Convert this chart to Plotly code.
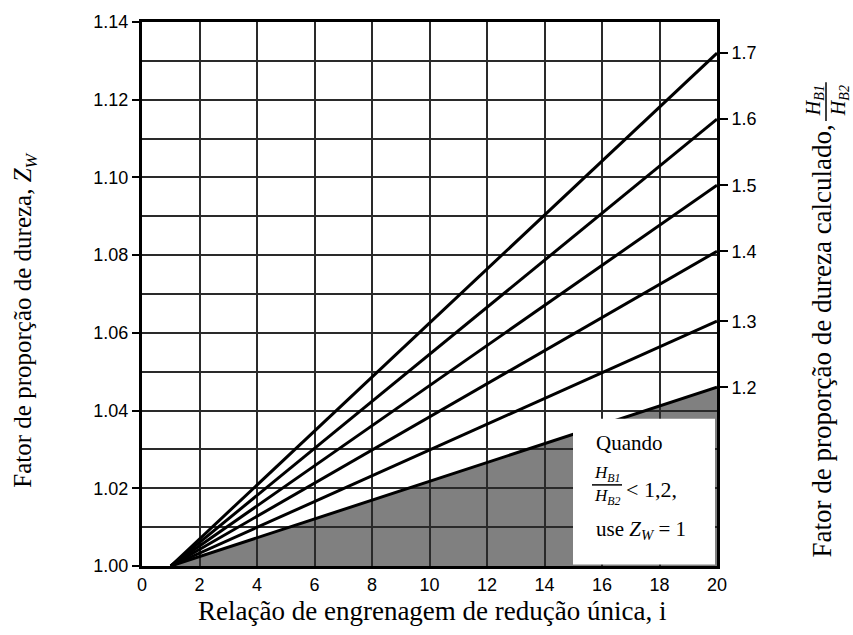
import plotly.graph_objects as go

# ---- data ----
i_start = 1.0
i_end = 20.0
zw_start = 1.00
ratios = [1.2, 1.3, 1.4, 1.5, 1.6, 1.7]
zw_end = [1.046, 1.063, 1.081, 1.098, 1.115, 1.132]
x_ticks = [0, 2, 4, 6, 8, 10, 12, 14, 16, 18, 20]
y_ticks = [1.00, 1.02, 1.04, 1.06, 1.08, 1.10, 1.12, 1.14]
y_minor = [1.01, 1.03, 1.05, 1.07, 1.09, 1.11, 1.13]

W, H = 853, 635
L, R, T, B = 142, 136, 16, 69
PW, PH = W - L - R, H - T - B

def px(x):
    return (x - L) / PW

def py(y):
    return (H - B - y) / PH

SERIF = "Liberation Serif, Times New Roman, serif"
SANS = "Liberation Sans, Arial, sans-serif"

fig = go.Figure()
for r, ze in zip(ratios, zw_end):
    fig.add_trace(go.Scatter(x=[i_start, i_end], y=[zw_start, ze], mode="lines",
                             line=dict(color="black", width=3), showlegend=False,
                             hoverinfo="skip", name=f"{r}"))
# invisible trace for secondary axis
fig.add_trace(go.Scatter(x=[i_start], y=[zw_start], yaxis="y2", mode="markers",
                         marker=dict(opacity=0), showlegend=False, hoverinfo="skip"))

grid_col = "#2a2a2a"
shapes = []
# shaded region below lowest line
shapes.append(dict(type="path", xref="x", yref="y", layer="below",
                   path=f"M {i_start},{zw_start} L {i_end},{zw_end[0]} L {i_end},{zw_start} Z",
                   fillcolor="#808080", line=dict(width=0)))
# white note box
shapes.append(dict(type="rect", xref="paper", yref="paper", layer="above",
                   x0=px(573), x1=px(715), y0=py(564.5), y1=py(417),
                   fillcolor="white", line=dict(width=0)))
# fraction bar in note box
shapes.append(dict(type="line", xref="paper", yref="paper", layer="above",
                   x0=px(592), x1=px(622), y0=py(484), y1=py(484),
                   line=dict(color="black", width=1.5)))
# fraction bar in right title
shapes.append(dict(type="line", xref="paper", yref="paper", layer="above",
                   x0=px(826), x1=px(826), y0=py(116), y1=py(77),
                   line=dict(color="black", width=1.5)))

ann = []
ann.append(dict(text="Quando", x=px(594), y=py(442), xref="paper", yref="paper",
                xanchor="left", yanchor="middle", showarrow=False,
                font=dict(family=SERIF, size=21, color="black")))
ann.append(dict(text="<i>H<sub>B1</sub></i>", x=px(607), y=py(473), xref="paper", yref="paper",
                xanchor="center", yanchor="middle", showarrow=False,
                font=dict(family=SERIF, size=17, color="black")))
ann.append(dict(text="<i>H<sub>B2</sub></i>", x=px(607), y=py(496), xref="paper", yref="paper",
                xanchor="center", yanchor="middle", showarrow=False,
                font=dict(family=SERIF, size=17, color="black")))
ann.append(dict(text="&lt; 1,2,", x=px(624), y=py(489), xref="paper", yref="paper",
                xanchor="left", yanchor="middle", showarrow=False,
                font=dict(family=SERIF, size=22, color="black")))
ann.append(dict(text="use <i>Z<sub>W</sub></i> = 1", x=px(594), y=py(530), xref="paper", yref="paper",
                xanchor="left", yanchor="middle", showarrow=False,
                font=dict(family=SERIF, size=21, color="black")))
# axis titles
ann.append(dict(text="Relação de engrenagem de redução única, i", x=px(432), y=py(612),
                xref="paper", yref="paper", xanchor="center", yanchor="middle", showarrow=False,
                font=dict(family=SERIF, size=27, color="black")))
ann.append(dict(text="Fator de proporção de dureza, <i>Z<sub>W</sub></i>", x=px(25), y=py(318),
                xref="paper", yref="paper", xanchor="center", yanchor="middle", showarrow=False,
                textangle=-90, font=dict(family=SERIF, size=25, color="black")))
ann.append(dict(text="Fator de proporção de dureza calculado,", x=px(822), y=py(339),
                xref="paper", yref="paper", xanchor="center", yanchor="middle", showarrow=False,
                textangle=-90, font=dict(family=SERIF, size=27, color="black")))
ann.append(dict(text="<i>H<sub>B1</sub></i>", x=px(814), y=py(96), xref="paper", yref="paper",
                xanchor="center", yanchor="middle", showarrow=False, textangle=-90,
                font=dict(family=SERIF, size=20, color="black")))
ann.append(dict(text="<i>H<sub>B2</sub></i>", x=px(839), y=py(96), xref="paper", yref="paper",
                xanchor="center", yanchor="middle", showarrow=False, textangle=-90,
                font=dict(family=SERIF, size=20, color="black")))

tickfont = dict(family=SANS, size=18, color="black")
fig.update_layout(
    width=W, height=H, autosize=False,
    margin=dict(l=L, r=R, t=T, b=B, pad=0),
    paper_bgcolor="white", plot_bgcolor="white",
    showlegend=False,
    shapes=shapes, annotations=ann,
    xaxis=dict(range=[0, 20], tickvals=x_ticks, ticktext=[str(v) for v in x_ticks],
               showgrid=True, gridcolor=grid_col, gridwidth=1.5,
               showline=True, linecolor="black", linewidth=3, mirror=True,
               ticks="", zeroline=False, layer="above traces",
               tickfont=tickfont, fixedrange=True),
    yaxis=dict(range=[1.0, 1.14], tickvals=y_ticks, ticktext=[f"{v:.2f}" for v in y_ticks],
               showgrid=True, gridcolor=grid_col, gridwidth=1.5,
               minor=dict(tickvals=y_minor, showgrid=True,
                          gridcolor=grid_col, gridwidth=1.5, ticks=""),
               showline=True, linecolor="black", linewidth=3, mirror=True,
               ticks="outside", ticklen=7, tickwidth=2, tickcolor="black",
               zeroline=False, layer="above traces",
               tickfont=tickfont, fixedrange=True),
    yaxis2=dict(range=[1.0, 1.14], overlaying="y", side="right",
                tickvals=zw_end, ticktext=[f"{r:.1f}" for r in ratios],
                showgrid=False, showline=False, zeroline=False,
                ticks="outside", ticklen=10, tickwidth=2, tickcolor="black",
                tickfont=tickfont, fixedrange=True),
)

fig.write_html("out.html")
